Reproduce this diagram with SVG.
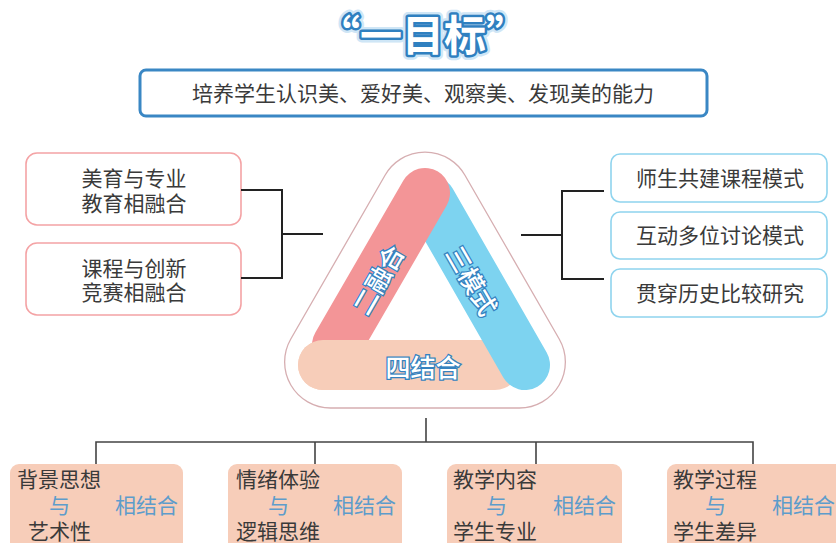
<svg xmlns="http://www.w3.org/2000/svg" width="836" height="543" viewBox="0 0 836 543">
<style>
text{font-family:"Noto Sans CJK SC","Noto Sans",sans-serif;}
.t{font-size:21px;fill:#3a3a3a;}
.c{text-anchor:middle;}
.b{font-size:21px;fill:#5d9ccb;}
.lbox{fill:#fff;stroke:#f4a3a5;stroke-width:1.6;}
.rbox{fill:#fff;stroke:#8fd4ee;stroke-width:1.6;}
.pbox{fill:#f7cdb9;}
.ln{fill:none;stroke:#222;stroke-width:2;}
.ln2{fill:none;stroke:#444;stroke-width:1.6;}
.bar{fill:none;stroke-width:50;stroke-linecap:round;}
.bt{font-size:25px;fill:#fff;stroke:#3482c0;stroke-width:2.6;paint-order:stroke;text-anchor:middle;dominant-baseline:central;font-weight:500;}
</style>
<rect width="836" height="543" fill="#fff"/>
<g id="title">
<text x="423" y="51" class="c" font-size="42" font-weight="bold" fill="none" stroke="#cfe6f6" stroke-width="10" stroke-linejoin="round">“一目标”</text>
<text x="423" y="51" class="c" font-size="42" font-weight="bold" fill="#fff" stroke="#2f80c0" stroke-width="5" stroke-linejoin="round" paint-order="stroke">“一目标”</text>
</g>
<g id="goal">
<rect x="140" y="70" width="567" height="46" rx="6" fill="#fff" stroke="#3a87c4" stroke-width="3"/>
<text x="423" y="101" class="t c" font-size="21.5">培养学生认识美、爱好美、观察美、发现美的能力</text>
</g>
<g id="triangle">
<path d="M385.2 175 A46 46 0 0 1 464.8 175 L559.2 339 A46 46 0 0 1 519.3 408 L330.7 408 A46 46 0 0 1 290.8 339 Z" fill="#fff" stroke="#d6aeb1" stroke-width="1.3"/>
<line class="bar" x1="323" y1="365" x2="495" y2="365" stroke="#f7cdb9"/>
<line class="bar" x1="431" y1="201" x2="525" y2="365" stroke="#7dd3f0"/>
<line class="bar" x1="425" y1="193" x2="337" y2="345" stroke="#f39597"/>
<line class="bar" x1="323" y1="365" x2="420" y2="365" stroke="#f7cdb9"/>
<text class="bt" transform="translate(377,279) rotate(-60)">二融合</text>
<text class="bt" transform="translate(473,280) rotate(60)">三模式</text>
<text class="bt" x="423" y="366" font-size="26">四结合</text>
</g>
<g id="left1">
<rect class="lbox" x="26" y="153" width="215" height="72" rx="11"/>
<text class="t c" x="134" y="186">美育与专业</text>
<text class="t c" x="134" y="211">教育相融合</text>
</g>
<g id="left2">
<rect class="lbox" x="26" y="243" width="215" height="72" rx="11"/>
<text class="t c" x="134" y="276">课程与创新</text>
<text class="t c" x="134" y="300">竞赛相融合</text>
</g>
<g id="right1">
<rect class="rbox" x="611" y="154" width="216" height="48" rx="9"/>
<text class="t c" x="720" y="186">师生共建课程模式</text>
</g>
<g id="right2">
<rect class="rbox" x="611" y="212" width="216" height="47" rx="9"/>
<text class="t c" x="720" y="243">互动多位讨论模式</text>
</g>
<g id="right3">
<rect class="rbox" x="611" y="269" width="216" height="48" rx="9"/>
<text class="t c" x="720" y="301">贯穿历史比较研究</text>
</g>
<g id="bottom1">
<rect class="pbox" x="10" y="464" width="173" height="95" rx="9"/>
<text class="t" x="17" y="487">背景思想</text>
<text class="b" x="49" y="513">与</text>
<text class="b" x="115" y="513">相结合</text>
<text class="t" x="28" y="539">艺术性</text>
</g>
<g id="bottom2">
<rect class="pbox" x="228" y="464" width="174" height="95" rx="9"/>
<text class="t" x="236" y="487">情绪体验</text>
<text class="b" x="268" y="513">与</text>
<text class="b" x="333" y="513">相结合</text>
<text class="t" x="236" y="539">逻辑思维</text>
</g>
<g id="bottom3">
<rect class="pbox" x="447" y="464" width="175" height="95" rx="9"/>
<text class="t" x="453" y="487">教学内容</text>
<text class="b" x="486" y="513">与</text>
<text class="b" x="553" y="513">相结合</text>
<text class="t" x="453" y="539">学生专业</text>
</g>
<g id="bottom4">
<rect class="pbox" x="667" y="464" width="185" height="95" rx="9"/>
<text class="t" x="673" y="487">教学过程</text>
<text class="b" x="705" y="513">与</text>
<text class="b" x="772" y="513">相结合</text>
<text class="t" x="673" y="539">学生差异</text>
</g>
<g id="connectors">
<path class="ln" d="M241 190 H282 V278 H241 M282 234 H323"/>
<path class="ln" d="M521 235 H562 M604 191 H562 V279 H604"/>
<path class="ln2" d="M426 418 V442 M96 464 V442 H753 V464 M315 442 V464 M536 442 V464"/>
</g>
</svg>
